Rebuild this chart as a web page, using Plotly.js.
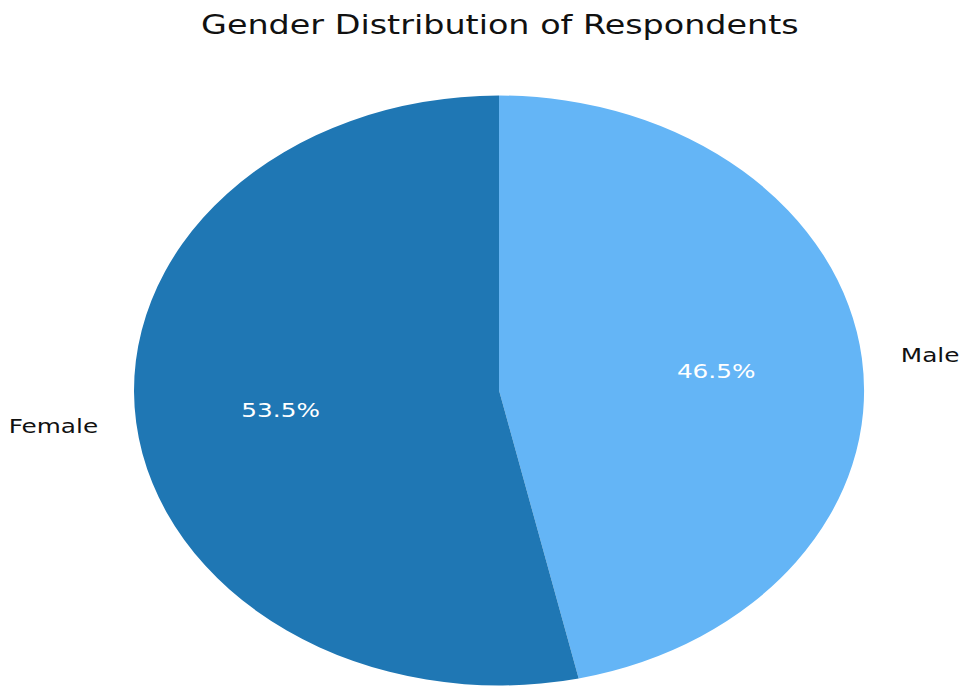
<!DOCTYPE html>
<html>
<head>
<meta charset="utf-8">
<script src="https://cdn.plot.ly/plotly-3.0.1.min.js"></script>
<style>
  html, body { margin: 0; padding: 0; background: #ffffff; overflow: hidden; }
  #chart { width: 775px; height: 686px; transform: scaleX(1.23742); transform-origin: 0 0; }
</style>
</head>
<body>
<div id="chart"></div>
<script>
// Data
const labels = ["Male", "Female"];
const values = [46.5, 53.5];
const colors = ["#64b5f6", "#1f77b4"];
const titleText = "Gender Distribution of Respondents";

// Layout (unstretched frame; the figure is stretched horizontally like the reference)
const W = 775, H = 686;
const cx = 403.3, cyTop = 390.5, r = 295;
const fontFam = "DejaVu Sans, sans-serif";

const total = values.reduce((a, b) => a + b, 0);
const annotations = [];
let start = 90; // degrees, clockwise from top
values.forEach((v, i) => {
  const span = v / total * 360;
  const mid = (start - span / 2) * Math.PI / 180;
  start -= span;
  const c = Math.cos(mid), s = Math.sin(mid);
  // outside label at 1.1 r
  annotations.push({
    xref: "paper", yref: "paper",
    x: (cx + 1.1 * r * c) / W, y: 1 - (cyTop - 1.1 * r * s) / H,
    xanchor: c >= 0 ? "left" : "right", yanchor: "middle",
    text: labels[i], showarrow: false,
    font: { family: fontFam, size: 20, color: "#111111" }
  });
  // percentage at 0.6 r
  annotations.push({
    xref: "paper", yref: "paper",
    x: (cx + 0.6 * r * c) / W, y: 1 - (cyTop - 0.6 * r * s) / H,
    xanchor: "center", yanchor: "middle",
    text: (v / total * 100).toFixed(1) + "%", showarrow: false,
    font: { family: fontFam, size: 20, color: "#ffffff" }
  });
});

const trace = {
  type: "pie",
  labels: labels,
  values: values,
  sort: false,
  direction: "clockwise",
  rotation: 0,
  textinfo: "none",
  hoverinfo: "skip",
  showlegend: false,
  marker: { colors: colors, line: { width: 0 } },
  domain: {
    x: [(cx - r) / W, (cx + r) / W],
    y: [(H - cyTop - r) / H, (H - cyTop + r) / H]
  }
};

const layout = {
  width: W, height: H,
  margin: { l: 0, r: 0, t: 0, b: 0 },
  paper_bgcolor: "#ffffff",
  title: {
    text: titleText,
    x: 404 / W, xanchor: "center",
    y: 1 - 25 / H, yanchor: "middle", yref: "container",
    font: { family: fontFam, size: 27, color: "#111111" }
  },
  annotations: annotations
};

Plotly.newPlot("chart", [trace], layout, { staticPlot: true, displayModeBar: false });
</script>
</body>
</html>
